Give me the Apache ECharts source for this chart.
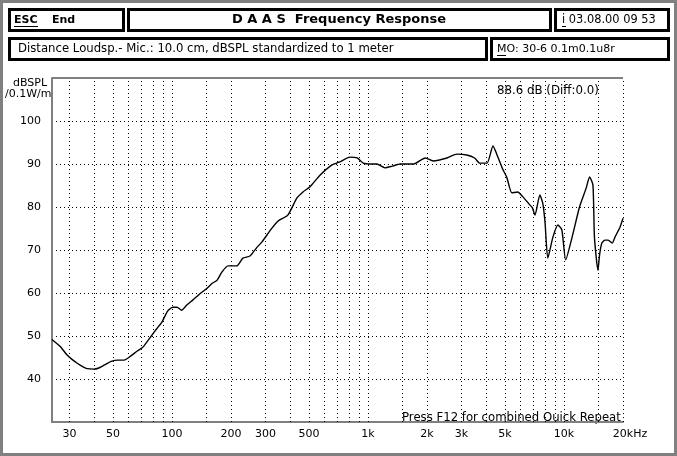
<!DOCTYPE html>
<html>
<head>
<meta charset="utf-8">
<script src="https://cdn.jsdelivr.net/npm/echarts@6/dist/echarts.min.js"></script>
<style>
html,body{margin:0;padding:0;background:#fff;}
#chart{width:677px;height:456px;}
</style>
</head>
<body>
<div id="chart"></div>
<script>
// Frequency (Hz) and SPL (dB)
const freqHz = [24.4,27,29,31,33,35,37,40,42,45,49,53,57,61,66,71,75,79,84,89,95,101,106,112,119,128,138,150,160,170,180,193,214,230,250,270,288,320,347,390,434,466,506,569,655,719,809,880,946,1030,1110,1220,1330,1460,1710,1960,2150,2530,2840,3190,3500,3720,4050,4340,4620,4890,5100,5420,5800,6190,6690,6900,7110,7530,7790,8000,8270,8780,9310,9750,10200,11000,12000,13000,13500,14050,14300,14900,15200,15600,16200,16800,17600,18200,19300,20000];
const splDb = [49.2,47.5,45.7,44.5,43.6,42.9,42.4,42.3,42.5,43.2,44.1,44.4,44.4,45.2,46.4,47.4,48.8,50.2,51.8,53.3,55.8,56.7,56.7,56.0,57.2,58.4,59.7,61.0,62.2,63.0,64.9,66.3,66.3,68.1,68.6,70.5,71.9,74.8,76.7,78.1,82.1,83.5,84.7,87.4,89.8,90.5,91.6,91.4,90.2,90.0,90.0,89.1,89.5,90.0,90.0,91.4,90.7,91.4,92.3,92.1,91.4,90.2,90.2,94.2,91.4,88.6,87.0,83.3,83.5,82.3,80.5,79.8,78.1,82.8,80.9,76.5,68.1,73.0,75.8,74.7,67.7,73.0,80.0,84.5,87.0,85.1,73.0,65.3,69.0,71.6,72.3,72.3,71.6,73.0,75.3,77.4];

// Axis grid / tick definitions
const gridFreqs = [30,40,50,60,70,80,90,100,150,200,300,400,500,600,700,800,900,1000,1500,2000,3000,4000,5000,6000,7000,8000,9000,10000,15000,20000];
const xTickValues = [30,50,100,200,300,500,1000,2000,3000,5000,10000,20000];
const xTickLabels = ['30','50','100','200','300','500','1k','2k','3k','5k','10k','20kHz'];
const yMin = 30, yMax = 110, yStep = 10;
const xMin = 24.43, xMax = 20000;

const FONT = '"DejaVu Sans", sans-serif';
const chart = echarts.init(document.getElementById('chart'), null, {renderer:'canvas'});

const seriesData = freqHz.map((f,i)=>[f, splDb[i]]);

const vLines = gridFreqs.map(f => {
  const idx = xTickValues.indexOf(f);
  const item = {xAxis: f};
  if (idx >= 0) {
    item.label = {
      show: true, position: 'start', distance: 7,
      formatter: xTickLabels[idx], color: '#000',
      fontFamily: FONT, fontSize: 11,
      padding: f === 20000 ? [0,0,0,14] : 0
    };
  }
  return item;
});

const option = {
  animation: false,
  backgroundColor: '#fff',
  grid: {left: 52, top: 78, right: 54, bottom: 34, containLabel: false},
  xAxis: {
    type: 'log', logBase: 10, min: xMin, max: xMax,
    axisLine: {show: true, lineStyle: {color: '#808080', width: 2}},
    axisTick: {show: false}, axisLabel: {show: false},
    splitLine: {show: false}, minorTick: {show: false}
  },
  yAxis: {
    type: 'value', min: yMin, max: yMax, interval: yStep,
    axisLine: {show: true, lineStyle: {color: '#808080', width: 2}},
    axisTick: {show: false},
    axisLabel: {
      color: '#000', fontFamily: FONT, fontSize: 11, margin: 11,
      formatter: v => (v === yMin || v === yMax) ? '' : String(v)
    },
    splitLine: {show: true, lineStyle: {color: '#000', width: 1, type: [1,3]}}
  },
  series: [{
    type: 'line',
    data: seriesData,
    showSymbol: false,
    smooth: 0.2,
    lineStyle: {color: '#000', width: 1.4},
    z: 5,
    markLine: {
      silent: true, symbol: ['none','none'], animation: false,
      lineStyle: {color: '#000', width: 1, type: [1,3]},
      label: {show: false},
      emphasis: {disabled: true},
      data: vLines.concat([
        {yAxis: yMax, lineStyle: {color: '#808080', width: 2, type: 'solid'}, label: {show: false}}
      ])
    }
  }],
  graphic: [
    {type:'rect', silent:true, shape:{x:1.5,y:1.5,width:674,height:453}, style:{fill:'none',stroke:'#808080',lineWidth:3}},
    {type:'rect', silent:true, shape:{x:9.5,y:9.5,width:114,height:21}, style:{fill:'none',stroke:'#000',lineWidth:3}},
    {type:'rect', silent:true, shape:{x:128.5,y:9.5,width:422,height:21}, style:{fill:'none',stroke:'#000',lineWidth:3}},
    {type:'rect', silent:true, shape:{x:555.5,y:9.5,width:113,height:21}, style:{fill:'none',stroke:'#000',lineWidth:3}},
    {type:'rect', silent:true, shape:{x:9.5,y:38.5,width:477,height:21}, style:{fill:'none',stroke:'#000',lineWidth:3}},
    {type:'rect', silent:true, shape:{x:491.5,y:38.5,width:177,height:21}, style:{fill:'none',stroke:'#000',lineWidth:3}},
    {type:'text', silent:true, style:{x:14,y:20,text:'ESC',font:'bold 11px '+FONT,fill:'#000',textVerticalAlign:'middle'}},
    {type:'line', silent:true, shape:{x1:14,y1:26.5,x2:38,y2:26.5}, style:{stroke:'#000',lineWidth:1}},
    {type:'text', silent:true, style:{x:52,y:20,text:'End',font:'bold 11px '+FONT,fill:'#000',textVerticalAlign:'middle'}},
    {type:'text', silent:true, style:{x:339,y:20,text:'D A A S  Frequency Response',font:'bold 13px '+FONT,fill:'#000',textAlign:'center',textVerticalAlign:'middle'}},
    {type:'text', silent:true, style:{x:562,y:20,text:'i 03.08.00 09 53',font:'11.4px '+FONT,fill:'#000',textVerticalAlign:'middle'}},
    {type:'line', silent:true, shape:{x1:562,y1:26.5,x2:566,y2:26.5}, style:{stroke:'#000',lineWidth:1}},
    {type:'text', silent:true, style:{x:18,y:49,text:'Distance Loudsp.- Mic.: 10.0 cm, dBSPL standardized to 1 meter',font:'11.7px '+FONT,fill:'#000',textVerticalAlign:'middle'}},
    {type:'text', silent:true, style:{x:497,y:49,text:'MO: 30-6 0.1m0.1u8r',font:'11px '+FONT,fill:'#000',textVerticalAlign:'middle'}},
    {type:'line', silent:true, shape:{x1:497,y1:55.5,x2:506,y2:55.5}, style:{stroke:'#000',lineWidth:1}},
    {type:'text', silent:true, style:{x:13,y:83,text:'dBSPL',font:'11px '+FONT,fill:'#000',textVerticalAlign:'middle'}},
    {type:'text', silent:true, style:{x:5,y:94,text:'/0.1W/m',font:'11px '+FONT,fill:'#000',textVerticalAlign:'middle'}},
    {type:'text', silent:true, style:{x:497,y:91,text:'88.6 dB (Diff:0.0)',font:'11.8px '+FONT,fill:'#000',textVerticalAlign:'middle'}},
    {type:'text', silent:true, style:{x:402,y:418,text:'Press F12 for combined Quick Repeat',font:'11.7px '+FONT,fill:'#000',textVerticalAlign:'middle'}}
  ]
};
chart.setOption(option);
</script>
</body>
</html>
